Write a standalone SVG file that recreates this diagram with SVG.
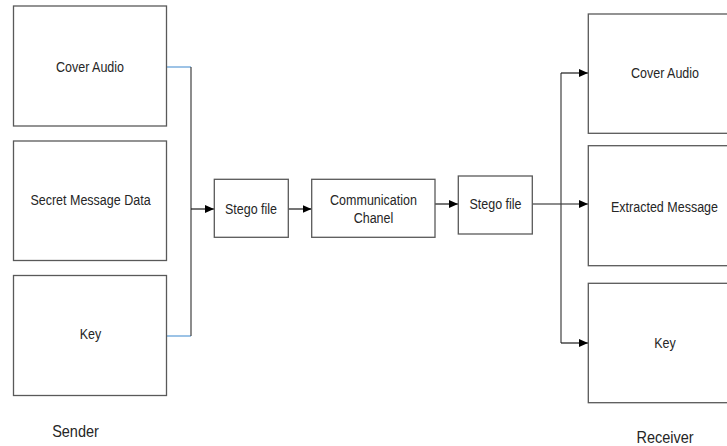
<svg xmlns="http://www.w3.org/2000/svg" width="727" height="446" viewBox="0 0 727 446">
<style>
.box{fill:#fff;stroke:#595959;stroke-width:1.3}
.t{font-family:"Liberation Sans",Arial,sans-serif;font-size:12.5px;fill:#262626;text-anchor:middle}
.lbl{font-family:"Liberation Sans",Arial,sans-serif;font-size:14.5px;fill:#262626;text-anchor:middle}
.ln{fill:none;stroke:#404040;stroke-width:1.2}
.blue{fill:none;stroke:#5b9bd5;stroke-width:1.2}
.arr{fill:none;stroke:#1a1a1a;stroke-width:1.2;marker-end:url(#ah)}
</style>
<defs>
<marker id="ah" markerWidth="9" markerHeight="8" refX="9" refY="4" orient="auto" markerUnits="userSpaceOnUse">
<path d="M0,0 L9,4 L0,8 Z" fill="#000"/>
</marker>
</defs>
<rect width="727" height="446" fill="#fff"/>
<g id="connectors">
<path class="blue" d="M167,67 H191"/>
<path class="blue" d="M167,336 H191"/>
<path class="ln" d="M191,67 V336"/>
<path class="arr" d="M191,209 H214"/>
<path class="arr" d="M288,209 H311.5"/>
<path class="arr" d="M435,204 H458"/>
<path class="arr" d="M532,204 H588"/>
<path class="ln" d="M561,73 V343"/>
<path class="arr" d="M561,73 H588"/>
<path class="arr" d="M561,343 H588"/>
</g>
<g id="s_cover"><rect class="box" x="13.5" y="6" width="153" height="120"/><text class="t" transform="translate(90,71.5) scale(1,1.15)">Cover Audio</text></g>
<g id="s_secret"><rect class="box" x="13.5" y="141" width="153" height="119.5"/><text class="t" transform="translate(90.5,205) scale(1,1.15)">Secret Message Data</text></g>
<g id="s_key"><rect class="box" x="13.5" y="275.5" width="153" height="120"/><text class="t" transform="translate(90.5,339) scale(1,1.15)">Key</text></g>
<g id="stego1"><rect class="box" x="214.3" y="179.3" width="74" height="58"/><text class="t" transform="translate(251,213.5) scale(1,1.15)">Stego file</text></g>
<g id="channel"><rect class="box" x="311.7" y="179.3" width="123.3" height="58"/><text class="t" transform="translate(373.5,204.5) scale(1,1.15)">Communication</text><text class="t" transform="translate(373.5,223) scale(1,1.15)">Chanel</text></g>
<g id="stego2"><rect class="box" x="458.3" y="176" width="74" height="58"/><text class="t" transform="translate(495.5,209) scale(1,1.15)">Stego file</text></g>
<g id="r_cover"><rect class="box" x="588.3" y="14" width="154" height="119.3"/><text class="t" transform="translate(665,78) scale(1,1.15)">Cover Audio</text></g>
<g id="r_extract"><rect class="box" x="588.3" y="145.7" width="154" height="120"/><text class="t" transform="translate(664.5,211.5) scale(1,1.15)">Extracted Message</text></g>
<g id="r_key"><rect class="box" x="588.3" y="283.3" width="154" height="119.4"/><text class="t" transform="translate(665,347.5) scale(1,1.15)">Key</text></g>
<g id="labels"><text class="lbl" transform="translate(75.5,436.5) scale(1,1.15)">Sender</text><text class="lbl" transform="translate(665,443) scale(1,1.15)">Receiver</text></g>
</svg>
